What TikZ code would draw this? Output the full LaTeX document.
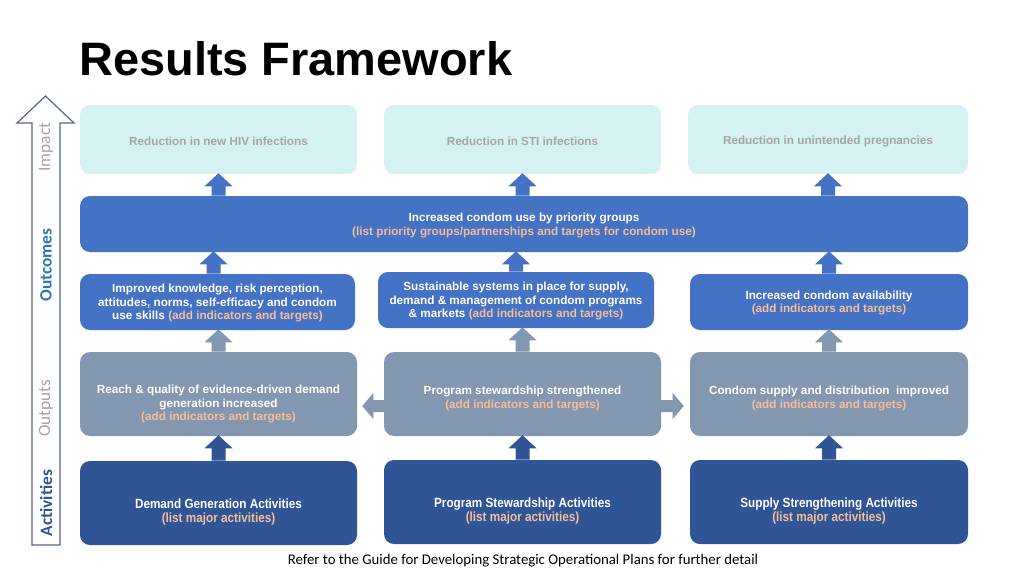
\documentclass[tikz,border=0pt]{standalone}
\usepackage{fontspec}
\setmainfont{Liberation Sans}
\newfontfamily\carlito{Carlito}
\newfontfamily\narrowf[FakeStretch=0.88]{Liberation Sans}
\usetikzlibrary{fit,calc}
\definecolor{impfill}{HTML}{D4F2F1}
\definecolor{imptext}{HTML}{A5A5A5}
\definecolor{outcol}{HTML}{4472C4}
\definecolor{outpcol}{HTML}{8497B0}
\definecolor{actcol}{HTML}{2F5597}
\definecolor{peach}{HTML}{F4BE98}
\definecolor{arrline}{HTML}{56658F}
\definecolor{outcomelbl}{HTML}{2E75B6}
\newcommand\blkup[3]{\fill[#1] let \p1=#2, \p2=#3 in
  (\x1-5.25pt,\y1) -- (\x1-5.25pt,\y2-9pt) -- (\x1-10.5pt,\y2-9pt) -- (\x1,\y2+0.75pt)
  -- (\x1+10.5pt,\y2-9pt) -- (\x1+5.25pt,\y2-9pt) -- (\x1+5.25pt,\y1) -- cycle;}
\newcommand\blkleft[3]{\fill[#1] let \p1=#2, \p2=#3 in
  (\x1,\y1-4.5pt) -- (\x2+8.25pt,\y1-4.5pt) -- (\x2+8.25pt,\y1-9.75pt) -- (\x2,\y1)
  -- (\x2+8.25pt,\y1+9.75pt) -- (\x2+8.25pt,\y1+4.5pt) -- (\x1,\y1+4.5pt) -- cycle;}
\newcommand\blkright[3]{\fill[#1] let \p1=#2, \p2=#3 in
  (\x1,\y1-4.5pt) -- (\x2-8.25pt,\y1-4.5pt) -- (\x2-8.25pt,\y1-9.75pt) -- (\x2,\y1)
  -- (\x2-8.25pt,\y1+9.75pt) -- (\x2-8.25pt,\y1+4.5pt) -- (\x1,\y1+4.5pt) -- cycle;}
\begin{document}
\begin{tikzpicture}[x=0.75pt,y=-0.75pt,
  box/.style={rounded corners=7.5pt, inner sep=0pt, draw=none},
  impbox/.style={box, fill=impfill},
  outbox/.style={box, fill=outcol},
  outpbox/.style={box, fill=outpcol},
  actbox/.style={box, fill=actcol},
  txt/.style={align=center, inner sep=0pt, text=white, font=\bfseries\fontsize{8.8}{9.9}\selectfont},
  imptxt/.style={txt, text=imptext},
  acttxt/.style={align=center, inner sep=0pt, text=white, font=\narrowf\bfseries\fontsize{10}{10.5}\selectfont},
  sidelbl/.style={rotate=90, inner sep=0pt, font=\carlito\fontsize{13}{15}\selectfont},
  ]
\useasboundingbox (0,0) rectangle (1024,576);
\fill[white] (0,0) rectangle (1024,576);

% title
\node[anchor=base west, inner sep=0pt, font=\bfseries\fontsize{35.2}{40}\selectfont] (title) at (79,75) {Results Framework};

% side arrow
\draw[arrline, line width=0.9pt, line join=miter] (32,545) -- (32,123) -- (17,123) -- (45.5,96) -- (74,123) -- (60,123) -- (60,545) -- cycle;
\node[sidelbl, text=imptext] (lImpact) at (46,147) {Impact};
\node[sidelbl, text=outcomelbl, font=\carlito\bfseries\fontsize{13}{15}\selectfont] (lOutcomes) at (46,265) {Outcomes};
\node[sidelbl, text=imptext] (lOutputs) at (46,408) {Outputs};
\node[sidelbl, text=actcol, font=\carlito\bfseries\fontsize{13}{15}\selectfont] (lActivities) at (46,503) {Activities};

% impact
\node[impbox, fit={(80,105) (357,174)}] (i1) {};
\node[impbox, fit={(384,105) (661,174)}] (i2) {};
\node[impbox, fit={(688,105) (968,174)}] (i3) {};
\node[imptxt] (ti1) at ($(i1)+(0,1.5)$) {Reduction in new HIV infections};
\node[imptxt] (ti2) at ($(i2)+(0,1.5)$) {Reduction in STI infections};
\node[imptxt] (ti3) at ($(i3)+(0,1.5)$) {Reduction in unintended pregnancies};

% wide outcome
\node[outbox, fit={(80,196) (968,252)}] (w) {};
\node[txt, font=\bfseries\fontsize{8.8}{10.5}\selectfont] (tw) at ($(w)+(0,1.5)$) {Increased condom use by priority groups\\\textcolor{peach}{(list priority groups/partnerships and targets for condom use)}};

% outcomes
\node[outbox, fit={(80,274) (355,330)}] (o1) {};
\node[outbox, fit={(378,272) (654,328)}] (o2) {};
\node[outbox, fit={(690,274) (968,330)}] (o3) {};
\node[txt] (to1) at ($(o1)+(0,1)$) {Improved knowledge, risk perception,\\attitudes, norms, self-efficacy and condom\\use skills \textcolor{peach}{(add indicators and targets)}};
\node[txt] (to2) at ($(o2)+(0,1)$) {Sustainable systems in place for supply,\\demand \& management of condom programs\\\& markets \textcolor{peach}{(add indicators and targets)}};
\node[txt] (to3) at ($(o3)+(0,1)$) {Increased condom availability\\\textcolor{peach}{(add indicators and targets)}};

% outputs
\node[outpbox, fit={(80,352) (357,436)}] (p1) {};
\node[outpbox, fit={(384,352) (661,436)}] (p2) {};
\node[outpbox, fit={(690,352) (968,436)}] (p3) {};
\node[txt] (tp1) at ($(p1)+(0,10)$) {Reach \& quality of evidence-driven demand\\generation increased\\\textcolor{peach}{(add indicators and targets)}};
\node[txt] (tp2) at ($(p2)+(0,4.5)$) {Program stewardship strengthened\\\textcolor{peach}{(add indicators and targets)}};
\node[txt] (tp3) at ($(p3)+(0,4.5)$) {Condom supply and distribution\ \ improved\\\textcolor{peach}{(add indicators and targets)}};

% activities
\node[actbox, fit={(80,461) (357,545)}] (a1) {};
\node[actbox, fit={(384,460) (661,544)}] (a2) {};
\node[actbox, fit={(690,460) (968,544)}] (a3) {};
\node[acttxt] (ta1) at ($(a1)+(0,9.5)$) {Demand Generation Activities\\\textcolor{peach}{(list major activities)}};
\node[acttxt] (ta2) at ($(a2)+(0,9.5)$) {Program Stewardship Activities\\\textcolor{peach}{(list major activities)}};
\node[acttxt] (ta3) at ($(a3)+(0,9.5)$) {Supply Strengthening Activities\\\textcolor{peach}{(list major activities)}};

% block arrows
\blkup{outcol}{(i1.south |- w.north)}{(i1.south)}
\blkup{outcol}{(i2.south |- w.north)}{(i2.south)}
\blkup{outcol}{(i3.south |- w.north)}{(i3.south)}
\blkup{outcol}{($(o1.north)+(-4,0)$)}{($(o1.north |- w.south)+(-4,0)$)}
\blkup{outcol}{(o2.north)}{(o2.north |- w.south)}
\blkup{outcol}{(o3.north)}{(o3.north |- w.south)}
\blkup{outpcol}{(p1.north)}{(p1.north |- o1.south)}
\blkup{outpcol}{(p2.north)}{(p2.north |- o2.south)}
\blkup{outpcol}{(p3.north)}{(p3.north |- o3.south)}
\blkup{actcol}{(a1.north)}{(a1.north |- p1.south)}
\blkup{actcol}{(a2.north)}{(a2.north |- p2.south)}
\blkup{actcol}{(a3.north)}{(a3.north |- p3.south)}
\blkleft{outpcol}{($(p2.west)+(1,12)$)}{($(p1.east)+(5,12)$)}
\blkright{outpcol}{($(p2.east)+(-1,12)$)}{($(p3.west)+(-6,12)$)}

% footnote
\node[inner sep=0pt, font=\carlito\fontsize{11.1}{13}\selectfont] (foot) at (523,561) {Refer to the Guide for Developing Strategic Operational Plans for further detail};
\end{tikzpicture}
\end{document}
